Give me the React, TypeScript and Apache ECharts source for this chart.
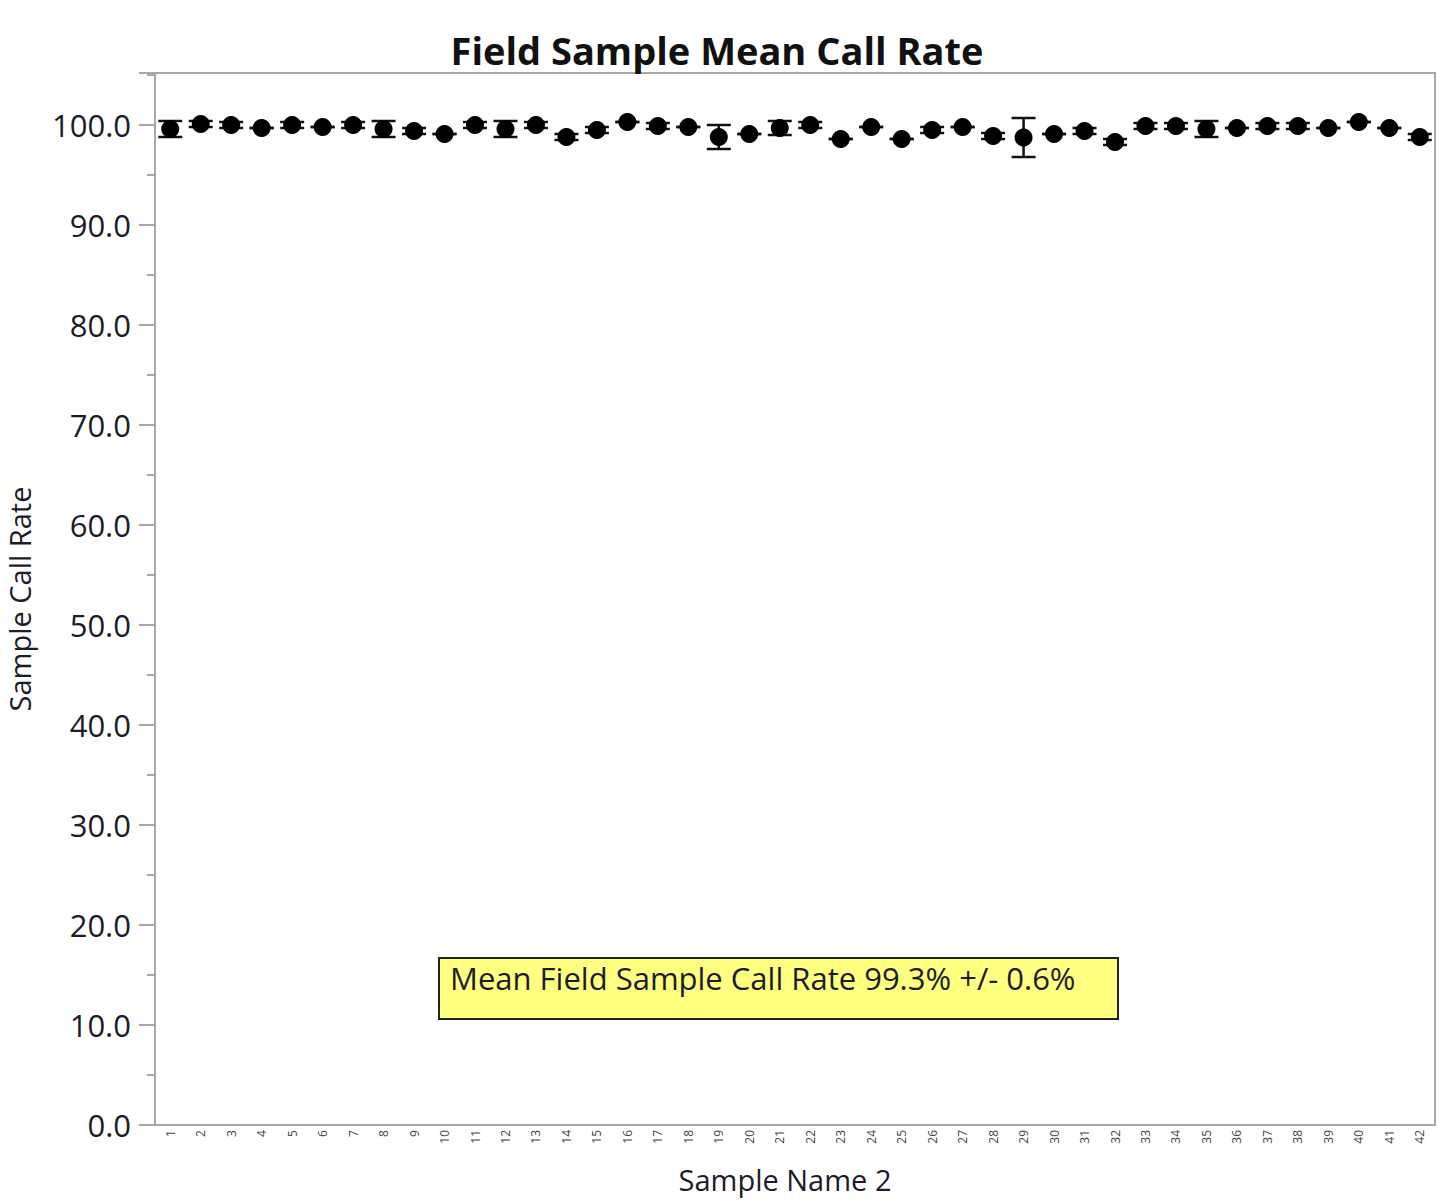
import React, { useEffect, useRef } from "react";
import * as echarts from "echarts";

const categories: string[] = Array.from({ length: 42 }, (_, i) => String(i + 1));
const means: number[] = [
  99.6, 100.1, 100.0, 99.7, 100.0, 99.8, 100.0, 99.6, 99.4, 99.1, 100.0, 99.6, 100.0, 98.8,
  99.5, 100.3, 99.9, 99.8, 98.8, 99.1, 99.7, 100.0, 98.6, 99.8, 98.6, 99.5, 99.8, 98.9,
  98.75, 99.1, 99.4, 98.3, 99.9, 99.9, 99.6, 99.7, 99.9, 99.9, 99.7, 100.3, 99.7, 98.8,
];
const errors: number[] = [
  0.8, 0.3, 0.3, 0, 0.3, 0, 0.3, 0.8, 0.3, 0, 0.3, 0.8, 0.3, 0.3,
  0.3, 0, 0.3, 0, 1.2, 0, 0.7, 0.3, 0, 0, 0, 0.3, 0, 0.3,
  1.95, 0, 0.3, 0.3, 0.3, 0.3, 0.8, 0, 0.3, 0.3, 0, 0, 0, 0.3,
];
const yTicks = { min: 0, max: 105.2, interval: 10 };
const titleText = "Field Sample Mean Call Rate";
const xName = "Sample Name 2";
const yName = "Sample Call Rate";
const noteText = "Mean Field Sample Call Rate 99.3% +/- 0.6%";

const FONT = "'Open Sans', 'Noto Sans', sans-serif";
const TXT = "#1c1c28";

export default function App() {
  const ref = useRef<HTMLDivElement>(null);
  useEffect(() => {
    if (!ref.current) return;
    const chart = echarts.init(ref.current, null, { renderer: "svg" });
    const errData = means.map((m, i) => [i, m - errors[i], m + errors[i]]);
    chart.setOption({
      animation: false,
      backgroundColor: "#ffffff",
      title: {
        text: titleText,
        left: 712,
        textAlign: "center",
        top: 26,
        textStyle: { fontFamily: FONT, fontWeight: "bold", fontSize: 38, color: "#111" },
      },
      grid: {
        left: 155, right: 2, top: 73, bottom: 77,
        outerBoundsMode: "none", containLabel: false,
        show: true, borderColor: "#a8a8a8", borderWidth: 2,
      },
      xAxis: {
        type: "category",
        data: categories,
        boundaryGap: true,
        name: xName,
        nameLocation: "middle",
        nameGap: 40,
        nameTextStyle: { fontFamily: FONT, fontSize: 29, color: TXT, padding: [0, 20, 0, 0] },
        axisLine: { lineStyle: { color: "#a8a8a8", width: 2 } },
        axisTick: { show: false },
        axisLabel: { rotate: 90, fontSize: 12, fontFamily: FONT, color: "#444", margin: 5, interval: 0 },
      },
      yAxis: {
        type: "value",
        min: yTicks.min,
        max: yTicks.max,
        interval: yTicks.interval,
        name: yName,
        nameLocation: "middle",
        nameGap: 121,
        nameTextStyle: { fontFamily: FONT, fontSize: 29, color: TXT },
        axisLine: { show: true, lineStyle: { color: "#a8a8a8", width: 2 } },
        axisTick: { show: true, length: 16, lineStyle: { color: "#a8a8a8", width: 2 } },
        minorTick: { show: true, splitNumber: 2, length: 8, lineStyle: { color: "#a8a8a8", width: 2 } },
        splitLine: { show: false },
        axisLabel: {
          fontFamily: FONT,
          fontSize: 31,
          color: TXT,
          margin: 24,
          formatter: (v: number) => (v > 100.5 ? "" : v.toFixed(1)),
        },
      },
      series: [
        {
          type: "custom",
          data: errData,
          z: 2,
          renderItem: (params: any, api: any) => {
            const x = api.coord([api.value(0), api.value(1)])[0];
            const lo = api.coord([api.value(0), api.value(1)])[1];
            const hi = api.coord([api.value(0), api.value(2)])[1];
            const hw = 12;
            const st = { stroke: "#111", lineWidth: 2.5 };
            return {
              type: "group",
              children: [
                { type: "line", shape: { x1: x, y1: lo, x2: x, y2: hi }, style: st },
                { type: "line", shape: { x1: x - hw, y1: lo, x2: x + hw, y2: lo }, style: st },
                { type: "line", shape: { x1: x - hw, y1: hi, x2: x + hw, y2: hi }, style: st },
              ],
            };
          },
        },
        {
          type: "scatter",
          data: means,
          symbol: "circle",
          symbolSize: 18,
          itemStyle: { color: "#000", opacity: 1 },
          z: 3,
        },
      ],
      graphic: [
        {
          type: "group",
          left: 438,
          top: 957,
          children: [
            {
              type: "rect",
              shape: { x: 0, y: 0, width: 679, height: 61 },
              style: { fill: "#ffff80", stroke: "#222", lineWidth: 2 },
            },
            {
              type: "text",
              x: 11,
              y: 4,
              style: { text: noteText, fontFamily: FONT, fontSize: 31, fill: TXT },
            },
          ],
        },
      ],
    });
    return () => chart.dispose();
  }, []);
  return <div ref={ref} style={{ position: "absolute", left: 0, top: 0, width: 1437, height: 1202 }} />;
}
